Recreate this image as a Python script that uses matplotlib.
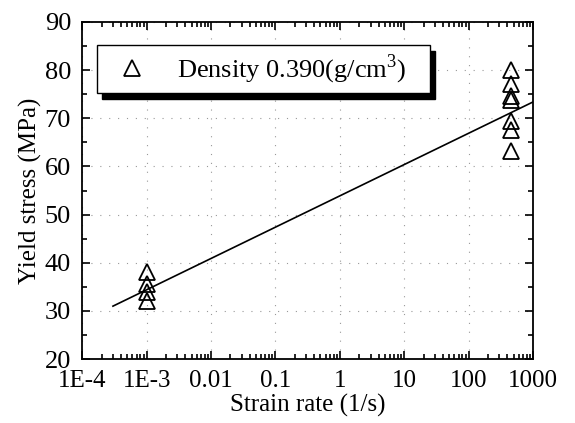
import numpy as np
import matplotlib
matplotlib.use('Agg')
import matplotlib.pyplot as plt
from matplotlib.patches import Rectangle
from matplotlib.ticker import LogLocator, MultipleLocator, FixedFormatter, NullFormatter

# measured yield stress
rate_low = [1e-3, 1e-3, 1e-3, 1e-3]
stress_low = [38.0, 35.7, 34.0, 32.0]
rate_high = [450, 450, 450, 450, 450, 450, 450]
stress_high = [80.0, 77.2, 74.6, 73.8, 69.4, 67.6, 63.2]

# fitted line  y = a + b*log10(rate)
fit_a = 53.9
fit_b = 6.5
fit_range = [3e-4, 1000]

xticks = [1e-4, 1e-3, 1e-2, 1e-1, 1, 10, 100, 1000]
xticklabels = ['1E-4', '1E-3', '0.01', '0.1', '1', '10', '100', '1000']

plt.rcParams['font.family'] = ['Liberation Serif', 'DejaVu Serif']
plt.rcParams['mathtext.fontset'] = 'custom'
plt.rcParams['mathtext.rm'] = 'Liberation Serif'

fig = plt.figure(figsize=(5.75, 4.23), dpi=100)
ax = fig.add_axes([0.143, 0.151, 0.784, 0.797])

rate = np.array(rate_low + rate_high)
stress = np.array(stress_low + stress_high)
ax.plot(rate, stress, ls='none', marker='^', ms=11, mfc='none', mec='k',
        mew=1.3, label=r'Density 0.390(g/cm$^{\mathregular{3}}$)')

xf = np.array(fit_range)
ax.plot(xf, fit_a + fit_b * np.log10(xf), color='k', lw=1.2)

ax.set_xscale('log')
ax.set_xlim(1e-4, 1000)
ax.set_ylim(20, 90)
ax.set_xticks(xticks)
ax.xaxis.set_major_formatter(FixedFormatter(xticklabels))
ax.xaxis.set_minor_locator(LogLocator(base=10, subs=np.arange(2, 10)))
ax.xaxis.set_minor_formatter(NullFormatter())
ax.yaxis.set_major_locator(MultipleLocator(10))
ax.yaxis.set_minor_locator(MultipleLocator(5))

ax.tick_params(which='both', direction='in', top=True, right=True,
               width=1.2)
ax.tick_params(axis='x', labelsize=18, pad=7.5)
ax.tick_params(axis='y', labelsize=19, pad=8)
ax.tick_params(which='major', length=6)
ax.tick_params(which='minor', length=3.5)
for s in ax.spines.values():
    s.set_linewidth(1.3)

ax.grid(True, which='major', color='0.6', ls=(0, (1, 7)), lw=0.8)

ax.set_xlabel('Strain rate (1/s)', fontsize=18, labelpad=2)
ax.set_ylabel('Yield stress (MPa)', fontsize=18, labelpad=2)

# legend box with a solid drop shadow
bx, by, bw, bh = 0.033, 0.789, 0.739, 0.143
ax.add_patch(Rectangle((bx + 0.011, by - 0.017), bw, bh, transform=ax.transAxes,
                       facecolor='k', edgecolor='k', zorder=4))
ax.add_patch(Rectangle((bx, by), bw, bh, transform=ax.transAxes,
                       facecolor='white', edgecolor='k', lw=1.0, zorder=4.5))
leg = ax.legend(loc='center left', bbox_to_anchor=(bx + 0.025, by + bh / 2),
                borderaxespad=0, frameon=False, fontsize=19,
                handlelength=1.8, handletextpad=0.8, borderpad=0,
                numpoints=1)
leg.set_zorder(5)

fig.savefig('out.png', dpi=100)
